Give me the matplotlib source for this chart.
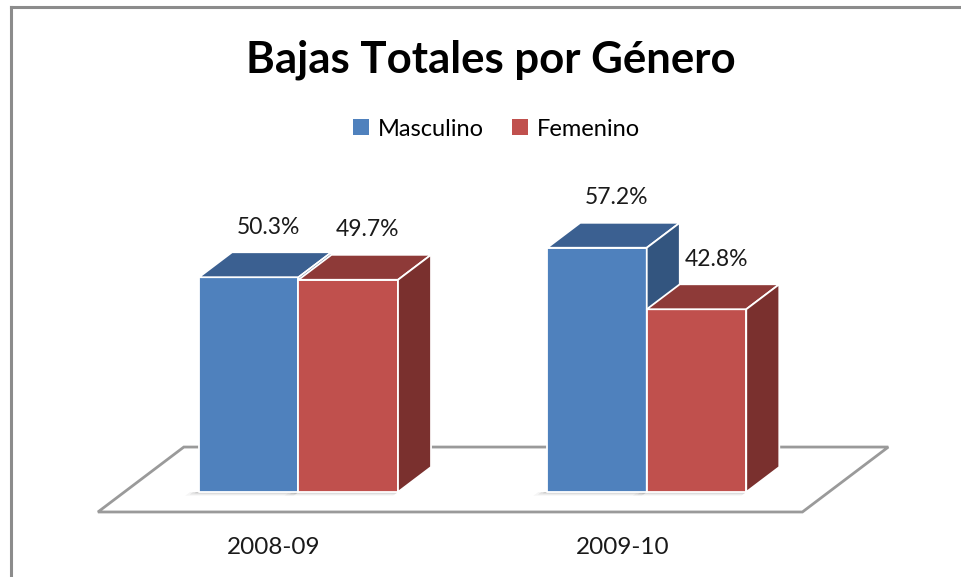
import matplotlib
matplotlib.use("Agg")
import matplotlib.pyplot as plt
from matplotlib.patches import Polygon, Patch
from matplotlib.lines import Line2D

categories = ["2008-09", "2009-10"]
series = ["Masculino", "Femenino"]
masculino = [50.3, 57.2]
femenino = [49.7, 42.8]
labels_m = ["50.3%", "57.2%"]
labels_f = ["49.7%", "42.8%"]

# face colours (front, top, side) for each series
colors = {
    "Masculino": ("#4f81bd", "#3b6091", "#33557f"),
    "Femenino": ("#c0504d", "#8e3a38", "#7a302e"),
}

# oblique projection of the depth axis
DX, DY = 0.332, 5.85
GROUP_STEP = 3.5
FIRST_LEFT = 2.0
FLOOR_X = (1.25, 8.33)
FLOOR_D = (-0.8, 1.8)

plt.rcParams["font.family"] = ["Lato", "DejaVu Sans"]

fig = plt.figure(figsize=(9.61, 5.77), dpi=100)
ax = fig.add_axes([0, 0, 1, 1])
ax.set_xlim(0, 961 / 99.5)
ax.set_ylim(-(577 - 492) / 4.27, 492 / 4.27)
ax.axis("off")


def proj(x, y, d):
    return (x + d * DX, y + d * DY)


# floor
fl = [proj(FLOOR_X[0], 0, FLOOR_D[0]), proj(FLOOR_X[1], 0, FLOOR_D[0]),
      proj(FLOOR_X[1], 0, FLOOR_D[1]), proj(FLOOR_X[0], 0, FLOOR_D[1])]
ax.add_patch(Polygon(fl, closed=True, facecolor="white", edgecolor="#9a9a9a", lw=2, zorder=1))


def bar3d(x0, h, name):
    front, top, side = colors[name]
    x1 = x0 + 1.0
    # soft shadow on the floor
    for k, a in enumerate([0.10, 0.07, 0.04]):
        s = 0.03 * (k + 1)
        ax.add_patch(Polygon([proj(x0 - s, 0, -0.05 * (k + 1)), proj(x1, 0, -0.05 * (k + 1)),
                              proj(x1, 0, 0), proj(x0 - s, 0, 0)],
                             facecolor="black", alpha=a, lw=0, zorder=2))
    kw = dict(edgecolor="white", lw=1.3, zorder=3, joinstyle="round")
    ax.add_patch(Polygon([proj(x0, 0, 0), proj(x1, 0, 0), proj(x1, h, 0), proj(x0, h, 0)],
                         facecolor=front, **kw))
    ax.add_patch(Polygon([proj(x0, h, 0), proj(x1, h, 0), proj(x1, h, 1), proj(x0, h, 1)],
                         facecolor=top, **kw))
    ax.add_patch(Polygon([proj(x1, 0, 0), proj(x1, 0, 1), proj(x1, h, 1), proj(x1, h, 0)],
                         facecolor=side, **kw))


for i, cat in enumerate(categories):
    left = FIRST_LEFT + i * GROUP_STEP
    bar3d(left, masculino[i], "Masculino")
    bar3d(left + 1.0, femenino[i], "Femenino")
    for j, (val, lab) in enumerate([(masculino[i], labels_m[i]), (femenino[i], labels_f[i])]):
        tx, ty = proj(left + j + 0.5, val, 0.5)
        ax.text(tx + 0.03, ty + 8.8, lab, ha="center", va="center", fontsize=16.5, color="#1a1a1a", zorder=5)
    cx, _ = proj(left + 1.0, 0, FLOOR_D[0])
    ax.text(cx + 0.02, -12.9, cat, ha="center", va="center", fontsize=17.5, color="#1a1a1a")

fig.text(0.511, 1 - 60 / 577, "Bajas Totales por Género", ha="center", va="center",
         fontsize=31.5, fontweight="bold", color="black")

handles = [Patch(facecolor=colors[s][0], edgecolor="none") for s in series]
fig.legend(handles, series, loc="center", bbox_to_anchor=(0.517, 1 - 129 / 577), ncol=2,
           frameon=False, fontsize=17, handlelength=0.65, handleheight=0.65,
           handletextpad=0.4, columnspacing=1.2)

# chart frame (left and top edges visible)
fig.add_artist(Line2D([11 / 961, 11 / 961], [0, 1 - 6.5 / 577], color="#8c8c8c", lw=2.2))
fig.add_artist(Line2D([11 / 961, 1], [1 - 6.5 / 577, 1 - 6.5 / 577], color="#8c8c8c", lw=2.2))

fig.savefig("out.png", dpi=100)
